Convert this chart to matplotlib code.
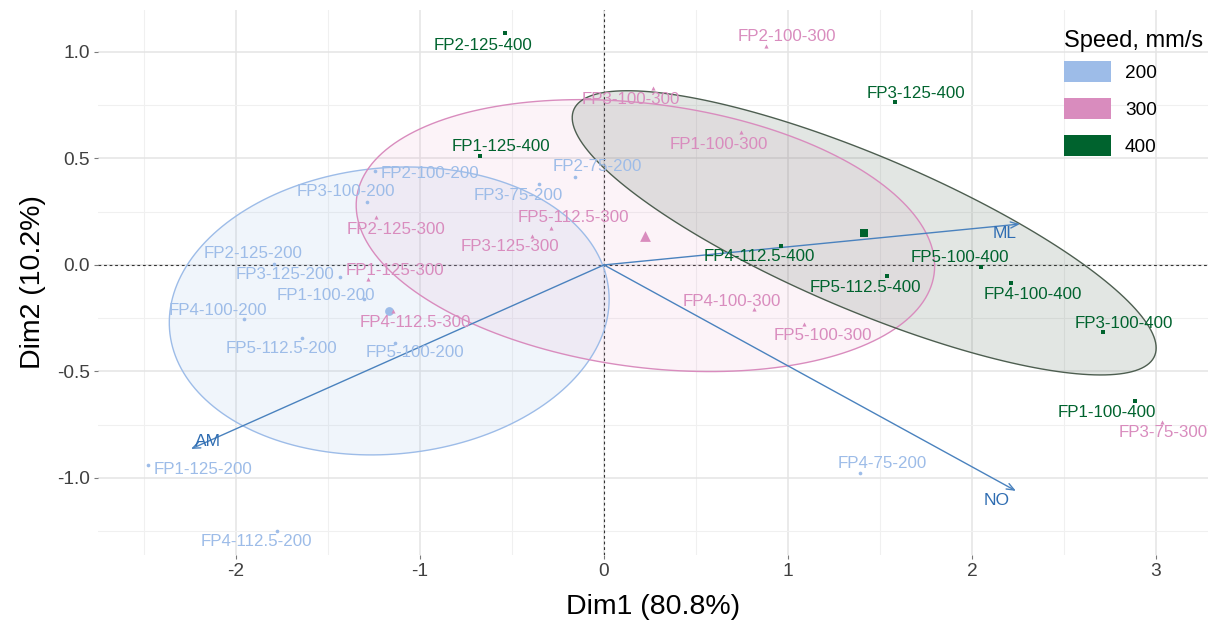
import numpy as np
import matplotlib
matplotlib.use("Agg")
import matplotlib.pyplot as plt
from matplotlib.patches import Patch, Polygon
from matplotlib.ticker import MultipleLocator

plt.rcParams['font.family'] = ['Liberation Sans', 'DejaVu Sans']

# ---- PCA individual scores -------------------------------------------------
sample_names = [
    "FP2-100-200", "FP3-100-200", "FP2-125-200", "FP3-125-200", "FP1-100-200",
    "FP4-100-200", "FP5-112.5-200", "FP5-100-200", "FP1-125-200", "FP4-112.5-200",
    "FP4-75-200", "FP3-75-200", "FP2-75-200",
    "FP2-100-300", "FP3-100-300", "FP1-100-300", "FP2-125-300", "FP1-125-300",
    "FP4-112.5-300", "FP5-112.5-300", "FP3-125-300", "FP4-100-300", "FP5-100-300",
    "FP3-75-300",
    "FP2-125-400", "FP3-125-400", "FP1-125-400", "FP4-112.5-400", "FP5-112.5-400",
    "FP5-100-400", "FP4-100-400", "FP3-100-400", "FP1-100-400",
]
speed = [200] * 13 + [300] * 11 + [400] * 9
dim1 = [
    -1.245, -1.288, -1.793, -1.435, -1.304, -1.957, -1.641, -1.136, -2.478, -1.777,
    1.391, -0.353, -0.158,
    0.880, 0.266, 0.745, -1.239, -1.283, -1.147, -0.288, -0.391, 0.815, 1.087, 3.033,
    -0.538, 1.582, -0.674, 0.962, 1.538, 2.049, 2.212, 2.712, 2.886,
]
dim2 = [
    0.441, 0.296, 0.005, -0.056, -0.160, -0.254, -0.343, -0.366, -0.939, -1.249,
    -0.977, 0.380, 0.413,
    1.028, 0.831, 0.624, 0.225, -0.066, -0.216, 0.174, 0.136, -0.207, -0.277, -0.737,
    1.089, 0.765, 0.512, 0.089, -0.052, -0.009, -0.085, -0.315, -0.638,
]

# ---- variable loadings (arrows) --------------------------------------------
var_names = ["ML", "AM", "NO"]
var_dim1 = [2.261, -2.245, 2.239]
var_dim2 = [0.192, -0.864, -1.061]

speed_levels = [200, 300, 400]
explained = [80.8, 10.2]

# ---- styling ----------------------------------------------------------------
colors = {200: "#9DBCE8", 300: "#D98CBE", 400: "#00632E"}
fill_colors = {200: "#9DBCE8", 300: "#E592C4", 400: "#3F5A47"}
fill_alpha = {200: 0.15, 300: 0.11, 400: 0.15}
edge_colors = {200: "#9DBCE8", 300: "#D98CBE", 400: "#4D5E50"}
markers = {200: "o", 300: "^", 400: "s"}
pt_size = {200: 7, 300: 9, 400: 7}
mean_size = {200: 40, 300: 60, 400: 40}
arrow_col = "#4A82BE"
var_text_col = "#2F6DB2"

# label placement offsets in pixels (dx, dy), keyed by sample
label_offset = {
    "FP2-100-200": (55, -2), "FP3-100-200": (-21, 10), "FP2-125-200": (-21, 10),
    "FP3-125-200": (-55, 2), "FP1-100-200": (-38, 4), "FP4-100-200": (-26, 9),
    "FP5-112.5-200": (-21, -11), "FP5-100-200": (20, -10), "FP1-125-200": (55, -5),
    "FP4-112.5-200": (-21, -11), "FP4-75-200": (22, 10), "FP3-75-200": (-21, -12),
    "FP2-75-200": (22, 10),
    "FP2-100-300": (21, 9), "FP3-100-300": (-22, -12), "FP1-100-300": (-22, -12),
    "FP2-125-300": (20, -12), "FP1-125-300": (27, 8), "FP4-112.5-300": (22, -12),
    "FP5-112.5-300": (22, 10), "FP3-125-300": (-22, -11), "FP4-100-300": (-22, 8),
    "FP5-100-300": (19, -12), "FP3-75-300": (1, -11),
    "FP2-125-400": (-22, -12), "FP3-125-400": (21, 9), "FP1-125-400": (21, 9),
    "FP4-112.5-400": (-22, -11), "FP5-112.5-400": (-22, -11), "FP5-100-400": (-21, 9),
    "FP4-100-400": (22, -11), "FP3-100-400": (21, 9), "FP1-100-400": (-28, -12),
}
var_offset = {"ML": (-15, -9), "AM": (17, 7), "NO": (-19, -10)}

W, H = 1208, 623
fig = plt.figure(figsize=(W / 100, H / 100), dpi=100)
ax_left, ax_right, ax_top, ax_bottom = 98, 1208, 10, 555
ax = fig.add_axes([ax_left / W, 1 - ax_bottom / H, (ax_right - ax_left) / W,
                   (ax_bottom - ax_top) / H])
ax.set_xlim(-2.75, 3.283)
ax.set_ylim(-1.362, 1.197)

# grid (theme_minimal look)
ax.xaxis.set_major_locator(MultipleLocator(1.0))
ax.xaxis.set_minor_locator(MultipleLocator(0.5))
ax.yaxis.set_major_locator(MultipleLocator(0.5))
ax.yaxis.set_minor_locator(MultipleLocator(0.25))
ax.grid(which="major", color="#E4E4E4", lw=1.1, zorder=0)
ax.grid(which="minor", color="#F0F0F0", lw=0.8, zorder=0)
ax.set_axisbelow(True)
for s in ax.spines.values():
    s.set_visible(False)
ax.tick_params(which="major", length=3, width=0.8, color="#7a7a7a",
               labelsize=13.8, labelcolor="#404040", pad=3)
ax.tick_params(which="minor", length=0)
ax.set_xticks([-2, -1, 0, 1, 2, 3])
ax.set_xticklabels(["-2", "-1", "0", "1", "2", "3"])
ax.set_yticks([-1.0, -0.5, 0.0, 0.5, 1.0])
ax.set_yticklabels(["-1.0", "-0.5", "0.0", "0.5", "1.0"])

ax.axhline(0, color="#333333", lw=0.8, ls=(0, (2.5, 2.5)), zorder=1)
ax.axvline(0, color="#333333", lw=0.8, ls=(0, (2.5, 2.5)), zorder=1)

x_all = np.array(dim1)
y_all = np.array(dim2)
sp_all = np.array(speed)


def norm_ellipse(x, y, level=0.5, npts=200):
    """Normal-theory data ellipse, as in ggplot2's stat_ellipse(type='norm')."""
    data = np.column_stack([x, y])
    center = data.mean(axis=0)
    cov = np.cov(data, rowvar=False)
    dfd = len(x) - 1
    qf = (dfd / 2.0) * ((1 - level) ** (-2.0 / dfd) - 1)  # F(2, dfd) quantile
    radius = np.sqrt(2 * qf)
    chol = np.linalg.cholesky(cov).T
    t = np.linspace(0, 2 * np.pi, npts)
    circle = np.column_stack([np.cos(t), np.sin(t)])
    return center + radius * circle @ chol


# ellipses
for lv in speed_levels:
    m = sp_all == lv
    pts = norm_ellipse(x_all[m], y_all[m])
    ax.add_patch(Polygon(pts, closed=True, facecolor=fill_colors[lv],
                         alpha=fill_alpha[lv], edgecolor="none", zorder=2))
    ax.add_patch(Polygon(pts, closed=True, facecolor="none",
                         edgecolor=edge_colors[lv], lw=1.0, zorder=3))

# variable arrows
for name, vx, vy in zip(var_names, var_dim1, var_dim2):
    ax.annotate("", xy=(vx, vy), xytext=(0, 0),
                arrowprops=dict(arrowstyle="->,head_length=0.55,head_width=0.22",
                                color=arrow_col, lw=1.0, shrinkA=0, shrinkB=0),
                zorder=4)
    dx, dy = var_offset[name]
    ax.annotate(name, xy=(vx, vy), xytext=(dx, dy), textcoords="offset pixels",
                ha="center", va="center", fontsize=12.5, color=var_text_col, zorder=6)

# individuals, labels and group means
for lv in speed_levels:
    m = sp_all == lv
    ax.scatter(x_all[m], y_all[m], s=pt_size[lv], marker=markers[lv],
               color=colors[lv], linewidths=0, zorder=5)
    ax.scatter([x_all[m].mean()], [y_all[m].mean()], s=mean_size[lv],
               marker=markers[lv], color=colors[lv], linewidths=0, zorder=5)
for name, x, y, lv in zip(sample_names, dim1, dim2, speed):
    dx, dy = label_offset[name]
    ax.annotate(name, xy=(x, y), xytext=(dx, dy), textcoords="offset pixels",
                ha="center", va="center", fontsize=12.2, color=colors[lv], zorder=6)

ax.set_xlabel(f"Dim1 ({explained[0]}%)", fontsize=20.5, color="black", labelpad=10)
ax.set_ylabel(f"Dim2 ({explained[1]}%)", fontsize=20.5, color="black", labelpad=8)

handles = [Patch(facecolor=colors[lv], edgecolor="none", label=str(lv))
           for lv in speed_levels]
leg = ax.legend(handles=handles, title="Speed, mm/s", loc="upper left",
                bbox_to_anchor=(1064 / W, 1 - 30 / H), bbox_transform=fig.transFigure,
                frameon=False, fontsize=13.7, title_fontsize=17,
                handlelength=2.45, handleheight=1.35, labelspacing=0.82,
                handletextpad=0.75, borderpad=0, borderaxespad=0,
                alignment="left")
# tighter gap between the legend title and its keys
leg._legend_box.sep = 6.2

fig.savefig("out.png", dpi=100)
